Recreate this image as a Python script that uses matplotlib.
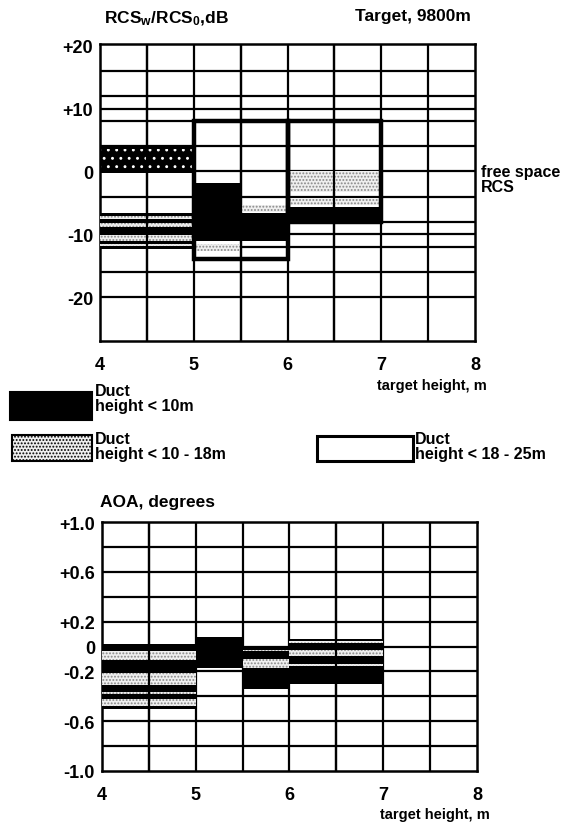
import matplotlib
matplotlib.use("Agg")
import matplotlib.pyplot as plt
from matplotlib.patches import Rectangle

plt.rcParams['font.family'] = ['Liberation Sans', 'DejaVu Sans']
plt.rcParams['font.weight'] = 'bold'
plt.rcParams['hatch.linewidth'] = 0.9
plt.rcParams['mathtext.fontset'] = 'custom'
plt.rcParams['mathtext.rm'] = 'Liberation Sans:bold'
plt.rcParams['mathtext.it'] = 'Liberation Sans:bold'

# target height bins (m) and values
x_ticks = [4, 5, 6, 7, 8]
x_bins = [4.0, 4.5, 5.0, 5.5, 6.0, 6.5, 7.0, 7.5, 8.0]

# RCS panel, dB
rcs_ticks = [20, 10, 0, -10, -20]
rcs_tick_labels = ['+20', '+10', '0', '-10', '-20']
rcs_grid = [16, 12, 10, 8, 4, 0, -4, -8, -10, -12, -16, -20]

# duct height < 10m  (x0, x1, low, high)
rcs_dark_x0 = [4.0, 4.0, 5.0, 5.5, 6.0]
rcs_dark_x1 = [5.0, 5.0, 5.5, 6.0, 7.0]
rcs_dark_lo = [-0.3, -12.3, -11.0, -11.0, -8.0]
rcs_dark_hi = [4.0, -6.6, -1.9, -6.6, -5.6]

# duct height 10 - 18m
rcs_light_x0 = [4.0, 4.0, 4.0, 4.0, 5.0, 5.5, 6.0, 6.0]
rcs_light_x1 = [5.0, 5.0, 5.0, 5.0, 5.5, 6.0, 7.0, 7.0]
rcs_light_lo = [-7.6, -8.9, -11.1, -11.9, -12.6, -6.5, -3.2, -5.4]
rcs_light_hi = [-7.1, -8.2, -10.1, -11.5, -11.6, -5.4, 0.0, -4.2]

# duct height 18 - 25m
rcs_open_x0 = [5.0, 6.0]
rcs_open_x1 = [6.0, 7.0]
rcs_open_lo = [-14.0, -8.0]
rcs_open_hi = [8.0, 8.0]

# AOA panel, degrees
aoa_ticks = [1.0, 0.6, 0.2, 0.0, -0.2, -0.6, -1.0]
aoa_tick_labels = ['+1.0', '+0.6', '+0.2', '0', '-0.2', '-0.6', '-1.0']
aoa_grid = [0.8, 0.6, 0.4, 0.2, 0.0, -0.2, -0.4, -0.6, -0.8]

aoa_dark_x0 = [4.0, 5.0, 5.5, 6.0]
aoa_dark_x1 = [5.0, 5.5, 6.0, 7.0]
aoa_dark_lo = [-0.5, -0.17, -0.34, -0.30]
aoa_dark_hi = [0.02, 0.08, 0.0, 0.06]

aoa_light_x0 = [4.0, 4.0, 4.0, 4.0, 5.5, 5.5, 6.0, 6.0, 6.0]
aoa_light_x1 = [5.0, 5.0, 5.0, 5.0, 6.0, 6.0, 7.0, 7.0, 7.0]
aoa_light_lo = [-0.11, -0.31, -0.38, -0.48, -0.04, -0.17, 0.03, -0.08, -0.155]
aoa_light_hi = [-0.04, -0.21, -0.365, -0.42, -0.025, -0.10, 0.045, -0.025, -0.14]

LABEL_FS = 11.5
TICK_FS = 13


def draw_grid(ax, levels):
    for xb in x_bins[1:-1]:
        ax.axvline(xb, color='black', lw=1.6, zorder=1)
    for lv in levels:
        ax.axhline(lv, color='black', lw=1.6, zorder=1)


def draw_bars(ax, x0, x1, lo, hi, **kw):
    w = [b - a for a, b in zip(x0, x1)]
    h = [b - a for a, b in zip(lo, hi)]
    ax.bar(x0, h, width=w, bottom=lo, align='edge', **kw)


def style_axes(ax, ylim, ticks, labels):
    ax.set_xlim(4, 8)
    ax.set_ylim(*ylim)
    ax.set_xticks(x_ticks)
    ax.set_xticklabels([str(t) for t in x_ticks])
    ax.set_yticks(ticks)
    ax.set_yticklabels(labels)
    ax.tick_params(length=0, labelsize=TICK_FS, pad=5)
    ax.tick_params(axis='x', pad=11)
    for s in ax.spines.values():
        s.set_linewidth(1.8)


fig = plt.figure(figsize=(5.74, 8.29), dpi=100)
W, H = 574.0, 829.0

# ---- RCS panel
ax1 = fig.add_axes([100 / W, 1 - 342 / H, 375 / W, 297 / H])
draw_grid(ax1, rcs_grid)
draw_bars(ax1, rcs_dark_x0, rcs_dark_x1, rcs_dark_lo, rcs_dark_hi,
          color='black', lw=0, zorder=2)
# the top block of the first two columns carries a white dot pattern
ax1.bar(4.0, 3.4, width=1.0, bottom=0.2, align='edge', facecolor='none',
        edgecolor='white', hatch='..', lw=0, zorder=2.5)
draw_bars(ax1, rcs_light_x0, rcs_light_x1, rcs_light_lo, rcs_light_hi,
          facecolor='#efefef', edgecolor='#888888', hatch='.....', lw=0, zorder=3)
draw_bars(ax1, rcs_open_x0, rcs_open_x1, rcs_open_lo, rcs_open_hi,
          facecolor='none', edgecolor='black', lw=3.2, zorder=4)
for xb in [4.5, 5.5, 6.5]:
    ax1.axvline(xb, color='black', lw=1.6, zorder=3.5)
style_axes(ax1, (-27, 20.3), rcs_ticks, rcs_tick_labels)

fig.text(104 / W, 1 - 19 / H, r'RCS$_{w}$/RCS$_{0}$,dB', fontsize=12.5,
         ha='left', va='center')
fig.text(471 / W, 1 - 16 / H, 'Target, 9800m', fontsize=12.5, ha='right',
         va='center')
fig.text(481 / W, 1 - 180 / H, 'free space\nRCS', fontsize=LABEL_FS,
         ha='left', va='center', linespacing=0.95)
fig.text(487 / W, 1 - 386 / H, 'target height, m', fontsize=10.5, ha='right',
         va='center')

# ---- legend
fig.patches.append(Rectangle((10 / W, 1 - 421 / H), 82 / W, 28 / H,
                             transform=fig.transFigure, facecolor='black',
                             edgecolor='black', lw=1.5))
fig.patches.append(Rectangle((12 / W, 1 - 462 / H), 80 / W, 26 / H,
                             transform=fig.transFigure, facecolor='#efefef',
                             edgecolor='black', hatch='.....', lw=1.5))
fig.patches.append(Rectangle((317 / W, 1 - 462 / H), 96 / W, 25 / H,
                             transform=fig.transFigure, facecolor='white',
                             edgecolor='black', lw=2.2))
fig.text(95 / W, 1 - 399 / H, 'Duct\nheight < 10m', fontsize=LABEL_FS,
         ha='left', va='center', linespacing=0.95)
fig.text(95 / W, 1 - 447 / H, 'Duct\nheight < 10 - 18m', fontsize=LABEL_FS,
         ha='left', va='center', linespacing=0.95)
fig.text(415 / W, 1 - 447 / H, 'Duct\nheight < 18 - 25m', fontsize=LABEL_FS,
         ha='left', va='center', linespacing=0.95)

# ---- AOA panel
ax2 = fig.add_axes([102 / W, 1 - 772 / H, 375 / W, 249 / H])
draw_grid(ax2, aoa_grid)
draw_bars(ax2, aoa_dark_x0, aoa_dark_x1, aoa_dark_lo, aoa_dark_hi,
          color='black', lw=0, zorder=2)
draw_bars(ax2, aoa_light_x0, aoa_light_x1, aoa_light_lo, aoa_light_hi,
          facecolor='#efefef', edgecolor='#888888', hatch='.....', lw=0, zorder=3)
for xb in [4.5, 6.5]:
    ax2.axvline(xb, color='black', lw=1.6, zorder=3.5)
style_axes(ax2, (-1.0, 1.0), aoa_ticks, aoa_tick_labels)

fig.text(100 / W, 1 - 503 / H, 'AOA, degrees', fontsize=12.5, ha='left',
         va='center')
fig.text(490 / W, 1 - 815 / H, 'target height, m', fontsize=10.5, ha='right',
         va='center')

fig.savefig('out.png', dpi=100)
